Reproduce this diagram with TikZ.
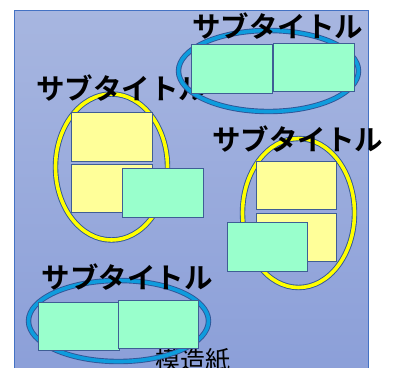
\documentclass[tikz,border=0pt]{standalone}
\usepackage{fontspec}
\newfontfamily\jpfont{Noto Sans CJK JP}
\newfontfamily\jpbold{Noto Sans CJK JP Bold}
\definecolor{sheettop}{HTML}{A7B6E0}
\definecolor{sheetbot}{HTML}{8A9ED8}
\definecolor{sheetedge}{HTML}{4472C4}
\definecolor{cardgreen}{HTML}{99FFCC}
\definecolor{cardyellow}{HTML}{FFFF99}
\definecolor{cardedge}{HTML}{3F5E95}
\definecolor{ringblue}{HTML}{0E9CDD}
\definecolor{ringyellow}{HTML}{FFFF00}
\definecolor{ringedge}{HTML}{2F5597}
\tikzset{
  card/.style={draw=cardedge, line width=0.9pt, inner sep=0pt},
  gcard/.style={card, fill=cardgreen},
  ycard/.style={card, fill=cardyellow},
  subtitle/.style={inner sep=0pt, font=\jpbold\fontsize{28.5}{28.5}\selectfont},
}
% ring with a coloured band and thin dark rims
\newcommand\ringshape[5]{%
  \draw[ringedge, line width=5.4pt] (#1,#2) ellipse [x radius=#3, y radius=#4];
  \draw[#5, line width=3.6pt] (#1,#2) ellipse [x radius=#3, y radius=#4];
}
\begin{document}
\begin{tikzpicture}[x=1pt, y=-1pt]
\useasboundingbox (0,0) rectangle (395,367);
\clip (0,0) rectangle (395,367);

% paper sheet
\shade[top color=sheettop, bottom color=sheetbot] (14,10) rectangle (368,390);
\draw[sheetedge, line width=1pt] (368,390) -- (368,10) -- (14,10) -- (14,390);
\node[inner sep=0pt, font=\jpfont\fontsize{25}{25}\selectfont] (sheet) at (192.5,360) {模造紙};

% left group
\ringshape{111.5}{167}{56}{73}{ringyellow}
\node[ycard, minimum width=81pt, minimum height=49pt] (ly1) at (111.5,136.5) {};
\node[ycard, minimum width=81pt, minimum height=48pt] (ly2) at (111.5,188) {};
\node[gcard, minimum width=81pt, minimum height=49pt] (lg1) at (162.5,192.5) {};
\node[subtitle] (lt) at (121.5,88.5) {サブタイトル};

% upper right group
\ringshape{268.5}{71}{90}{40.5}{ringblue}
\node[gcard, minimum width=81pt, minimum height=49pt] (ug1) at (231.5,68.5) {};
\node[gcard, minimum width=81pt, minimum height=48pt] (ug2) at (313.5,67) {};
\node[subtitle] (ut) at (277.5,26) {サブタイトル};

% right group
\ringshape{298.5}{213}{56}{74.5}{ringyellow}
\node[ycard, minimum width=80pt, minimum height=48pt] (ry1) at (296,185) {};
\node[ycard, minimum width=80pt, minimum height=48pt] (ry2) at (296,237) {};
\node[gcard, minimum width=80pt, minimum height=49pt] (rg1) at (267,246.5) {};
\node[subtitle] (rt) at (297.5,139.5) {サブタイトル};

% bottom group
\ringshape{118.5}{321}{90}{40.5}{ringblue}
\node[gcard, minimum width=81pt, minimum height=48pt] (bg1) at (78.5,326) {};
\node[gcard, minimum width=80pt, minimum height=48pt] (bg2) at (158,324) {};
\node[subtitle] (bt) at (127,277.5) {サブタイトル};
\end{tikzpicture}
\end{document}
